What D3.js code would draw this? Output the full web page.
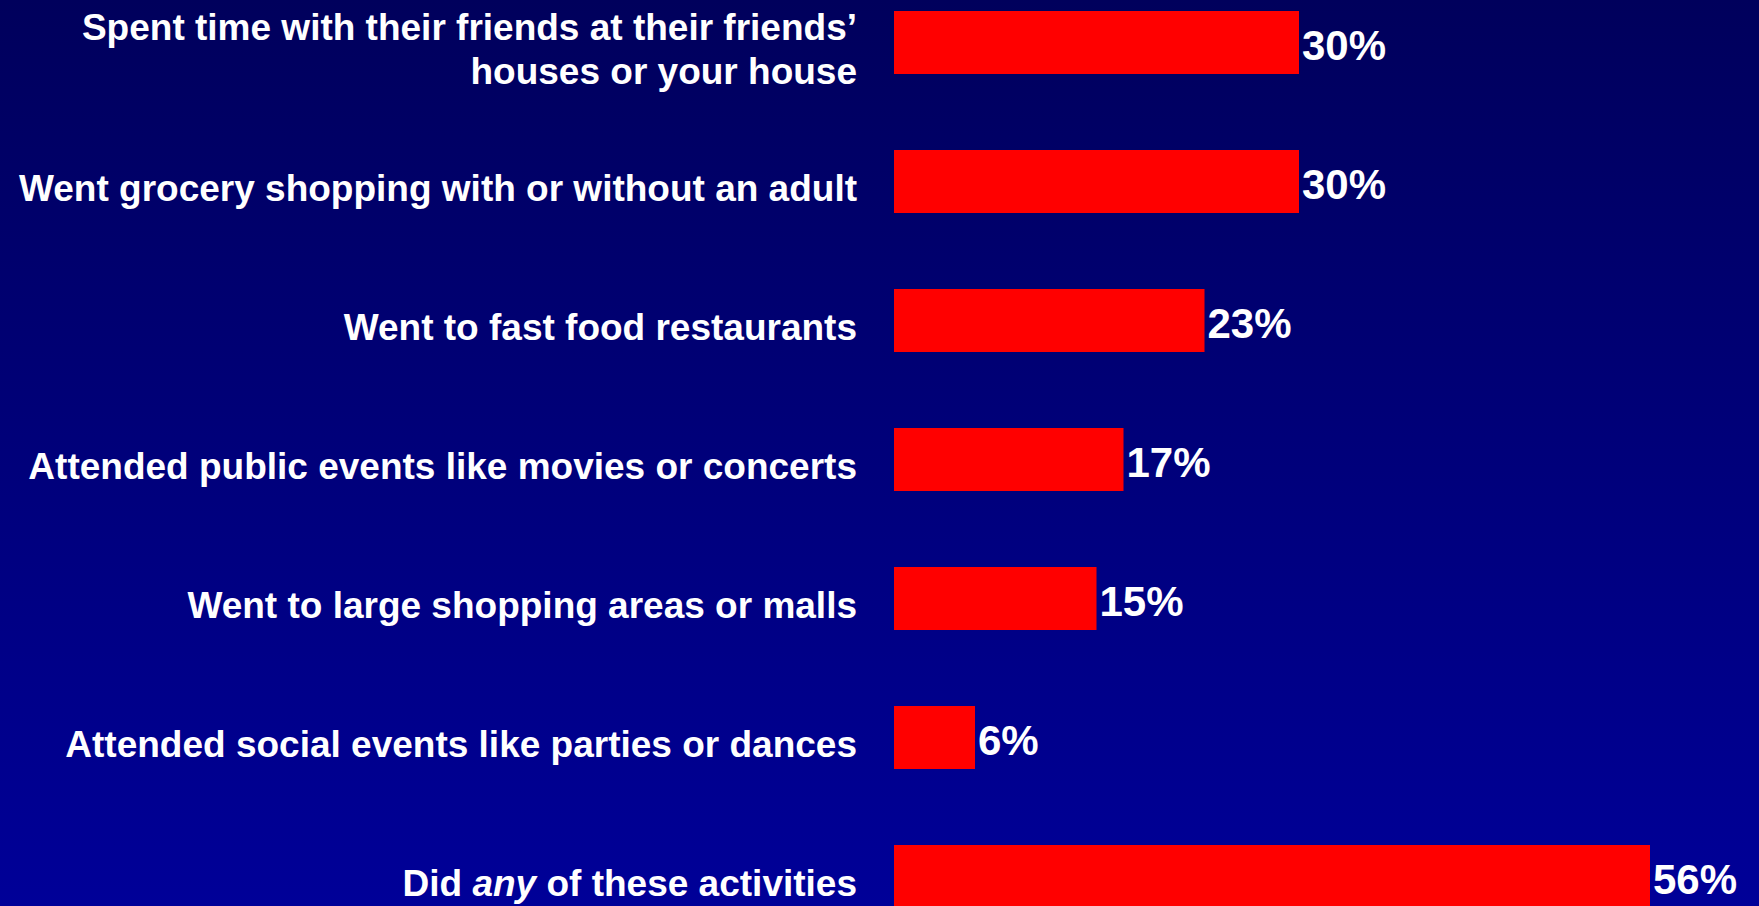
<!DOCTYPE html>
<html>
<head>
<meta charset="utf-8">
<script src="https://cdn.jsdelivr.net/npm/d3@7"></script>
<style>
  html, body { margin: 0; padding: 0; overflow: hidden; background: #000080; }
  svg { display: block; }
  text { font-family: "Liberation Sans", Arial, sans-serif; font-weight: bold; fill: #ffffff; }
</style>
</head>
<body>
<script>
// ---- data ----
const categories = [
  "Spent time with their friends at their friends’ houses or your house",
  "Went grocery shopping with or without an adult",
  "Went to fast food restaurants",
  "Attended public events like movies or concerts",
  "Went to large shopping areas or malls",
  "Attended social events like parties or dances",
  "Did any of these activities"
];
// label line breaks / italic segments
const labelLines = [
  [[{t: "Spent time with their friends at their friends’"}], [{t: "houses or your house"}]],
  [[{t: "Went grocery shopping with or without an adult"}]],
  [[{t: "Went to fast food restaurants"}]],
  [[{t: "Attended public events like movies or concerts"}]],
  [[{t: "Went to large shopping areas or malls"}]],
  [[{t: "Attended social events like parties or dances"}]],
  [[{t: "Did "}, {t: "any", i: true}, {t: " of these activities"}]]
];
const values = [30, 30, 23, 17, 15, 6, 56];
const valueLabels = ["30%", "30%", "23%", "17%", "15%", "6%", "56%"];

// ---- layout ----
const W = 1759, H = 906;
const svg = d3.select("body").append("svg").attr("width", W).attr("height", H);

const defs = svg.append("defs");
const grad = defs.append("linearGradient").attr("id", "bg")
  .attr("x1", 0).attr("y1", 0).attr("x2", 0).attr("y2", 1);
grad.append("stop").attr("offset", "0%").attr("stop-color", "#00005c");
grad.append("stop").attr("offset", "100%").attr("stop-color", "#000098");
svg.append("rect").attr("width", W).attr("height", H).attr("fill", "url(#bg)");

const x = d3.scaleLinear().domain([0, 56]).range([894, 1650]);
const y = d3.scaleBand().domain(categories).range([11, 908])
  .paddingInner(76 / 139).paddingOuter(0);

const data = categories.map((c, i) => ({c, v: values[i], lab: valueLabels[i], lines: labelLines[i]}));

// bars
svg.append("g").selectAll("rect").data(data).join("rect")
  .attr("x", x(0))
  .attr("y", d => y(d.c))
  .attr("width", d => x(d.v) - x(0))
  .attr("height", y.bandwidth())
  .attr("fill", "#ff0000");

// value labels
svg.append("g").selectAll("text").data(data).join("text")
  .attr("x", d => x(d.v) + 3)
  .attr("y", d => y(d.c) + y.bandwidth() / 2 + 17)
  .attr("font-size", 42)
  .text(d => d.lab);

// category labels
const lineH = 44;
const labG = svg.append("g");
data.forEach(d => {
  const cy = y(d.c) + y.bandwidth() / 2 + 19;
  const n = d.lines.length;
  d.lines.forEach((segs, li) => {
    const t = labG.append("text")
      .attr("x", 857)
      .attr("y", cy + (li - (n - 1) / 2) * lineH)
      .attr("text-anchor", "end")
      .attr("font-size", 37);
    segs.forEach(s => {
      t.append("tspan").attr("font-style", s.i ? "italic" : "normal").text(s.t);
    });
  });
});
</script>
</body>
</html>
